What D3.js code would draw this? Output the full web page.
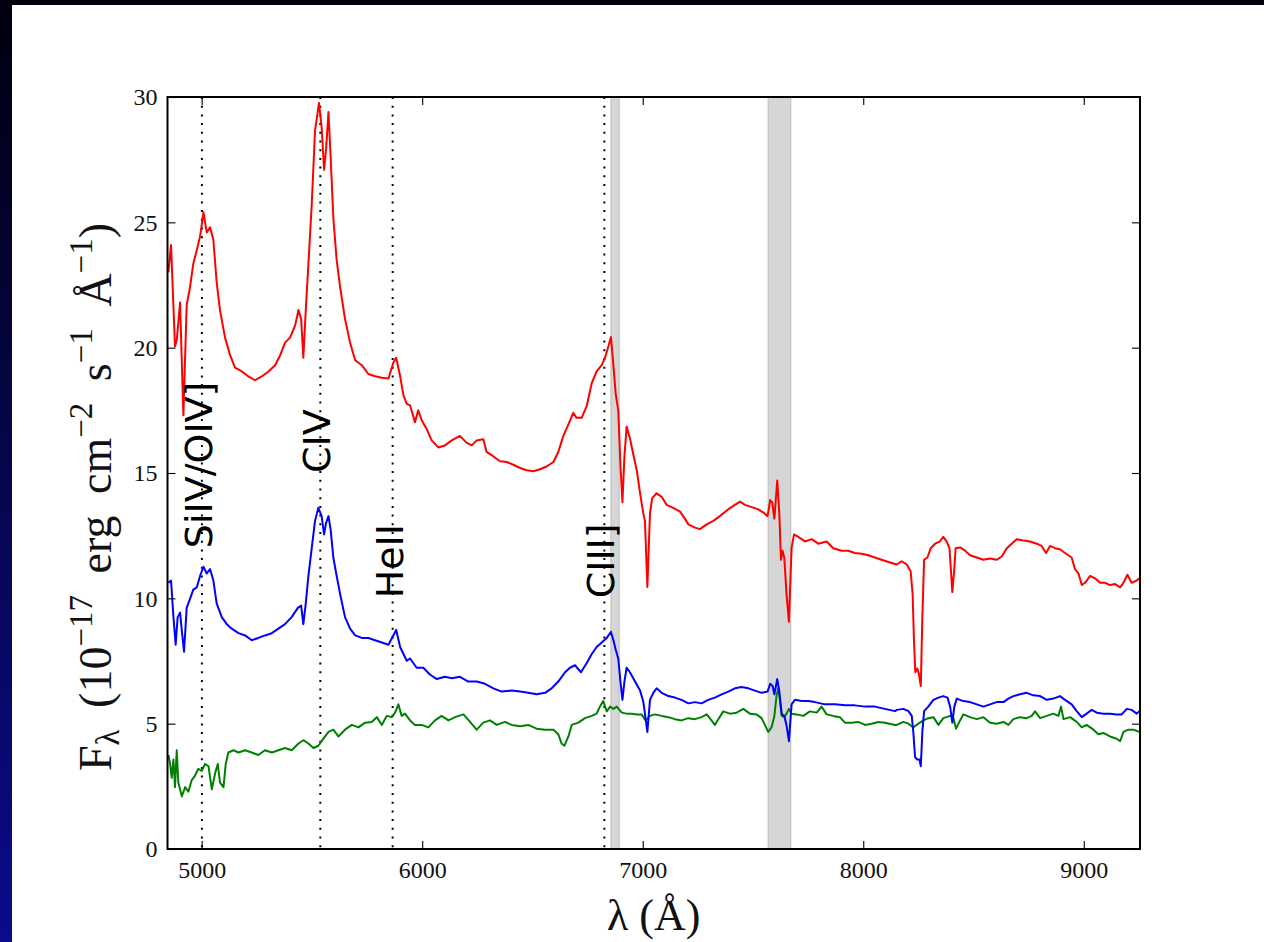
<!DOCTYPE html>
<html><head><meta charset="utf-8">
<script src="https://cdn.jsdelivr.net/npm/d3@7"></script>
<style>html,body{margin:0;padding:0;background:#fff;}svg{display:block;}</style>
</head><body>
<svg id="chart" width="1264" height="942"></svg>
<script>
// ---------------- data ----------------
const redWave = [4849,4861,4879,4887,4902,4917,4932,4947,4962,4978,4993,5008,5023,5038,5053,5068,5083,5106,5129,5151,5182,5212,5242,5272,5303,5333,5356,5378,5401,5424,5439,5451,5461,5472,5484,5499,5514,5532,5544,5555,5564,5575,5585,5597,5612,5628,5650,5673,5696,5726,5756,5786,5817,5847,5869,5882,5900,5915,5930,5945,5967,5982,5998,6020,6043,6073,6103,6134,6171,6202,6225,6247,6277,6292,6323,6353,6383,6413,6444,6474,6504,6534,6564,6595,6617,6640,6663,6685,6700,6723,6746,6769,6791,6814,6829,6844,6856,6867,6877,6889,6899,6908,6917,6927,6942,6957,6973,6988,7003,7010,7021,7033,7043,7063,7086,7108,7138,7169,7191,7207,7237,7259,7290,7320,7350,7388,7418,7441,7464,7494,7524,7547,7566,7578,7587,7597,7610,7619,7627,7634,7642,7652,7663,7675,7686,7705,7736,7766,7796,7834,7864,7902,7932,7962,7993,8023,8053,8083,8114,8152,8174,8197,8215,8224,8230,8236,8245,8253,8261,8268,8276,8291,8306,8326,8348,8363,8378,8391,8398,8404,8412,8419,8439,8462,8484,8515,8545,8575,8605,8628,8651,8673,8696,8726,8756,8787,8809,8829,8847,8870,8892,8915,8945,8960,8976,8991,9006,9029,9051,9074,9097,9119,9142,9165,9180,9198,9217,9240,9252];
const redFlux = [23.0,24.1,20.05,20.3,21.8,17.3,21.7,22.4,23.35,23.9,24.45,25.4,24.6,24.8,24.3,22.6,21.5,20.4,19.7,19.2,19.05,18.85,18.7,18.85,19.05,19.3,19.7,20.2,20.4,20.9,21.5,21.15,19.6,21.5,23.35,25.7,28.66,29.76,28.8,27.1,27.9,29.4,27.56,25.18,23.5,22.4,21.15,20.2,19.5,19.3,18.95,18.86,18.8,18.77,19.4,19.6,18.86,18.1,17.76,17.7,17.03,17.5,17.1,16.76,16.3,16.02,16.1,16.3,16.48,16.2,16.1,16.3,16.35,15.84,15.66,15.47,15.44,15.33,15.2,15.11,15.07,15.15,15.26,15.44,15.84,16.48,16.94,17.4,17.2,17.2,17.67,18.59,19.05,19.3,19.6,20.05,20.42,19.3,18.2,17.5,15.3,13.83,15.66,16.85,16.39,15.75,15.11,14.2,13.37,13.1,10.45,13.4,14.0,14.19,14.05,13.73,13.61,13.46,13.18,12.95,12.82,12.76,12.95,13.09,13.28,13.55,13.73,13.86,13.73,13.64,13.55,13.42,13.28,13.92,13.83,13.18,14.7,13.46,11.54,11.9,11.63,10.16,9.07,12.0,12.55,12.45,12.27,12.36,12.18,12.27,12.0,11.9,11.9,11.81,11.78,11.72,11.63,11.54,11.45,11.35,11.48,11.35,11.08,10.16,8.33,7.05,7.2,6.96,6.5,9.25,11.54,11.63,12.0,12.18,12.27,12.45,12.27,12.0,11.08,10.25,11.08,12.0,12.03,11.9,11.72,11.63,11.54,11.59,11.54,11.67,12.0,12.18,12.36,12.31,12.27,12.18,12.09,11.81,12.09,12.0,11.96,11.81,11.63,11.17,10.99,10.53,10.62,10.9,10.8,10.62,10.62,10.53,10.57,10.44,10.62,10.94,10.62,10.71,10.8];

const blueWave = [4849,4861,4872,4882,4891,4902,4910,4920,4932,4947,4962,4978,4993,5008,5023,5038,5053,5068,5091,5114,5136,5167,5197,5227,5257,5287,5318,5348,5378,5408,5436,5451,5461,5472,5484,5499,5514,5529,5544,5555,5564,5575,5585,5597,5612,5628,5650,5673,5696,5726,5756,5786,5817,5847,5869,5882,5900,5915,5930,5945,5975,6005,6035,6066,6103,6134,6171,6209,6247,6285,6323,6360,6406,6444,6481,6519,6557,6587,6617,6648,6670,6693,6720,6746,6769,6791,6814,6837,6856,6867,6877,6889,6899,6908,6917,6927,6942,6965,6988,7003,7021,7033,7048,7063,7086,7116,7146,7176,7207,7237,7267,7297,7327,7358,7388,7418,7448,7479,7509,7539,7566,7578,7589,7597,7610,7619,7630,7642,7652,7663,7675,7690,7720,7751,7781,7826,7872,7917,7962,8008,8053,8098,8144,8152,8182,8205,8220,8227,8235,8245,8255,8261,8268,8276,8295,8318,8341,8363,8382,8394,8404,8413,8424,8454,8484,8515,8545,8575,8605,8636,8658,8681,8711,8741,8771,8802,8832,8862,8892,8915,8945,8968,8991,9013,9036,9059,9089,9119,9149,9172,9195,9217,9240,9252];
const blueFlux = [10.62,10.71,9.25,8.15,9.25,9.43,8.7,7.87,9.62,9.98,10.35,10.44,10.9,11.26,10.99,11.17,10.71,9.8,9.25,8.97,8.79,8.61,8.52,8.33,8.42,8.52,8.61,8.79,8.97,9.25,9.62,9.71,8.97,9.8,10.9,12.0,13.09,13.61,13.28,12.55,13.0,13.28,12.73,11.63,10.9,10.16,9.25,8.79,8.52,8.42,8.42,8.33,8.24,8.15,8.52,8.74,8.06,7.78,7.51,7.6,7.23,7.23,6.96,6.78,6.87,6.81,6.87,6.68,6.68,6.59,6.41,6.28,6.32,6.28,6.23,6.17,6.23,6.41,6.68,7.05,7.23,7.33,7.05,7.42,7.78,8.06,8.24,8.42,8.66,8.33,7.97,7.6,6.68,5.95,6.68,7.23,7.05,6.68,6.32,5.86,4.67,5.95,6.23,6.41,6.23,6.1,6.04,5.95,5.81,5.86,5.81,5.95,6.04,6.17,6.28,6.41,6.46,6.41,6.32,6.23,6.28,6.59,6.5,6.17,6.78,6.32,5.4,5.31,4.94,4.3,5.77,5.95,5.9,5.9,5.86,5.77,5.77,5.73,5.73,5.68,5.68,5.59,5.5,5.55,5.59,5.5,5.31,4.67,3.66,3.57,3.57,3.3,4.67,5.5,5.68,5.95,6.04,6.1,6.04,5.68,5.04,5.68,6.0,5.9,5.86,5.77,5.68,5.77,5.86,5.86,6.0,6.1,6.17,6.23,6.13,6.1,5.95,6.0,6.1,5.95,5.77,5.5,5.26,5.4,5.55,5.44,5.4,5.4,5.37,5.37,5.59,5.55,5.4,5.5];

const greenWave = [4849,4857,4864,4872,4879,4887,4894,4910,4925,4940,4955,4970,4985,5000,5015,5031,5046,5061,5073,5083,5099,5109,5121,5144,5167,5197,5227,5257,5287,5318,5348,5378,5408,5439,5461,5484,5507,5529,5552,5575,5597,5620,5650,5681,5711,5741,5771,5794,5817,5839,5862,5877,5892,5907,5922,5945,5967,5998,6028,6058,6088,6119,6149,6187,6217,6247,6277,6307,6338,6375,6406,6444,6481,6519,6557,6595,6617,6632,6645,6663,6678,6708,6738,6769,6791,6806,6821,6837,6852,6867,6882,6905,6927,6950,6973,6995,7013,7033,7055,7086,7116,7146,7176,7207,7237,7267,7290,7312,7327,7343,7365,7395,7426,7456,7486,7516,7539,7554,7569,7584,7597,7607,7615,7622,7630,7642,7652,7663,7675,7698,7728,7758,7789,7811,7834,7864,7894,7917,7947,7977,8008,8038,8068,8098,8144,8152,8182,8205,8227,8250,8273,8295,8318,8341,8363,8394,8409,8421,8439,8454,8484,8515,8545,8575,8605,8636,8658,8681,8711,8741,8764,8779,8802,8832,8862,8885,8897,8908,8938,8968,8991,9013,9044,9066,9089,9119,9149,9165,9180,9202,9225,9252];
const greenFlux = [3.75,3.39,2.84,3.57,2.47,3.94,2.65,2.1,2.47,2.29,2.75,2.93,3.2,3.11,3.39,3.3,2.38,3.02,3.39,2.65,2.47,3.39,3.85,3.94,3.85,3.94,3.85,3.75,3.94,3.85,3.94,4.03,3.94,4.21,4.34,4.21,4.03,4.12,4.4,4.67,4.76,4.49,4.76,4.95,4.85,5.04,5.07,5.26,4.95,5.31,5.26,5.44,5.77,5.31,5.4,5.13,4.95,4.95,4.85,5.13,5.31,5.13,5.26,5.37,5.07,4.76,5.04,5.13,4.95,5.07,4.95,4.9,4.95,4.8,4.76,4.76,4.58,4.21,4.12,4.49,4.95,5.04,5.22,5.31,5.4,5.68,5.9,5.49,5.68,5.59,5.68,5.44,5.4,5.4,5.37,5.37,5.13,5.31,5.37,5.31,5.26,5.18,5.13,5.22,5.18,5.26,5.37,5.13,4.95,5.18,5.49,5.4,5.44,5.59,5.4,5.37,5.22,4.95,4.67,4.85,5.31,6.13,6.41,5.95,5.31,5.26,5.4,5.59,5.4,5.37,5.31,5.49,5.44,5.68,5.37,5.31,5.26,5.04,5.04,5.07,4.95,5.0,5.07,5.04,4.95,4.95,5.07,5.0,4.85,5.0,5.13,5.22,5.26,4.95,5.22,5.31,5.22,4.8,5.13,5.37,5.26,5.18,5.26,5.04,5.0,5.07,4.95,5.18,5.26,5.22,5.31,5.49,5.22,5.31,5.4,5.31,5.68,5.18,5.26,5.07,4.85,4.95,4.76,4.58,4.63,4.49,4.4,4.3,4.67,4.76,4.76,4.67];

const lineNames = ["SiIV/OIV]", "CIV", "HeII", "CIII]"];
const lineWaves = [5001, 5538, 5866, 6826];
const lineLabelY = [12, 15, 10, 10];

const bandStart = [6856, 7569];
const bandEnd = [6893, 7671];

const xTicks = [5000, 6000, 7000, 8000, 9000];
const yTicks = [0, 5, 10, 15, 20, 25, 30];

// ---------------- drawing ----------------
const svg = d3.select("#chart");
const W = 1264, H = 942;
const defs = svg.append("defs");
const grad = defs.append("linearGradient").attr("id","bg").attr("x1",0).attr("y1",0).attr("x2",0).attr("y2",1);
grad.append("stop").attr("offset","0%").attr("stop-color","#00000e");
grad.append("stop").attr("offset","100%").attr("stop-color","#0b0b8c");
svg.append("rect").attr("x",0).attr("y",0).attr("width",W).attr("height",H).attr("fill","url(#bg)");
svg.append("rect").attr("x",12).attr("y",5).attr("width",W-12).attr("height",H-5).attr("fill","#fff");

const L = 167.5, R = 1140, T = 97, B = 849;
const x = d3.scaleLinear().domain([4845, 9255]).range([L, R]);
const y = d3.scaleLinear().domain([0, 30]).range([B, T]);

defs.append("clipPath").attr("id","clip").append("rect")
  .attr("x",L).attr("y",T).attr("width",R-L).attr("height",B-T);
const plot = svg.append("g").attr("clip-path","url(#clip)");

// grey bands
plot.selectAll("rect.band").data(bandStart.map((s,i)=>[s,bandEnd[i]])).enter()
  .append("rect").attr("class","band")
  .attr("x",d=>x(d[0])).attr("width",d=>x(d[1])-x(d[0]))
  .attr("y",T).attr("height",B-T)
  .attr("fill","#d6d6d6").attr("stroke","#c2c2c2").attr("stroke-width",1.2);

// dotted lines
plot.selectAll("line.em").data(lineWaves).enter().append("line")
  .attr("x1",d=>x(d)).attr("x2",d=>x(d)).attr("y1",T).attr("y2",B)
  .attr("stroke","#000").attr("stroke-width",2).attr("stroke-dasharray","2 6.7");

// spectra
const lineGen = d3.line().x(d=>x(d[0])).y(d=>y(d[1]));
const series = [
  {w: greenWave, f: greenFlux, c: "#008000"},
  {w: blueWave, f: blueFlux, c: "#0000ff"},
  {w: redWave, f: redFlux, c: "#ff0000"}
];
series.forEach(s => {
  plot.append("path").datum(s.w.map((w,i)=>[w, s.f[i]]))
    .attr("d", lineGen).attr("fill","none").attr("stroke", s.c)
    .attr("stroke-width",2).attr("stroke-linejoin","round");
});

// line labels
lineNames.forEach((n,i)=>{
  const px = x(lineWaves[i]) + 10, py = y(lineLabelY[i]);
  svg.append("text").attr("transform",`translate(${px},${py}) rotate(-90)`)
    .attr("font-family","'DejaVu Sans', sans-serif").attr("font-size",38)
    .attr("fill","#000").text(n);
});

// axes
const serif = "'Liberation Serif', 'DejaVu Serif', serif";
const ax = d3.axisBottom(x).tickValues(xTicks).tickFormat(d3.format("d")).tickSizeInner(-8).tickSizeOuter(0).tickPadding(12);
const gx = svg.append("g").attr("transform",`translate(0,${B})`).call(ax);
const ay = d3.axisLeft(y).tickValues(yTicks).tickFormat(d3.format("d")).tickSizeInner(-8).tickSizeOuter(0).tickPadding(10);
const gy = svg.append("g").attr("transform",`translate(${L},0)`).call(ay);
const axT = d3.axisTop(x).tickValues(xTicks).tickFormat("").tickSizeInner(-8).tickSizeOuter(0);
const gt = svg.append("g").attr("transform",`translate(0,${T})`).call(axT);
const ayR = d3.axisRight(y).tickValues(yTicks).tickFormat("").tickSizeInner(-8).tickSizeOuter(0);
const gr = svg.append("g").attr("transform",`translate(${R},0)`).call(ayR);
[gx,gy,gt,gr].forEach(g=>{
  g.select(".domain").remove();
  g.selectAll(".tick line").attr("stroke","#000").attr("stroke-width",1.1);
  g.selectAll("text").attr("font-family",serif).attr("font-size",24).attr("fill","#111");
});

// frame
svg.append("rect").attr("x",L).attr("y",T).attr("width",R-L).attr("height",B-T)
  .attr("fill","none").attr("stroke","#000").attr("stroke-width",2);

// axis labels
const yl = svg.append("text").attr("transform",`translate(111,497) rotate(-90)`)
  .attr("text-anchor","middle").attr("font-family",serif).attr("font-size",46)
  .attr("word-spacing",10).attr("fill","#111");
yl.append("tspan").text("F");
yl.append("tspan").attr("font-size",33).attr("dy",8).text("λ");
yl.append("tspan").attr("dy",-8).text(" (10");
yl.append("tspan").attr("font-size",33).attr("dy",-19).text("−17");
yl.append("tspan").attr("dy",19).text(" erg cm");
yl.append("tspan").attr("font-size",33).attr("dy",-19).text("−2");
yl.append("tspan").attr("dy",19).text(" s");
yl.append("tspan").attr("font-size",33).attr("dy",-19).text("−1");
yl.append("tspan").attr("dy",19).text(" Å");
yl.append("tspan").attr("font-size",33).attr("dy",-19).text("−1");
yl.append("tspan").attr("dy",19).text(")");

svg.append("text").attr("x",(L+R)/2).attr("y",930).attr("text-anchor","middle")
  .attr("font-family",serif).attr("font-size",44).attr("fill","#111").text("λ (Å)");
</script>
</body></html>
